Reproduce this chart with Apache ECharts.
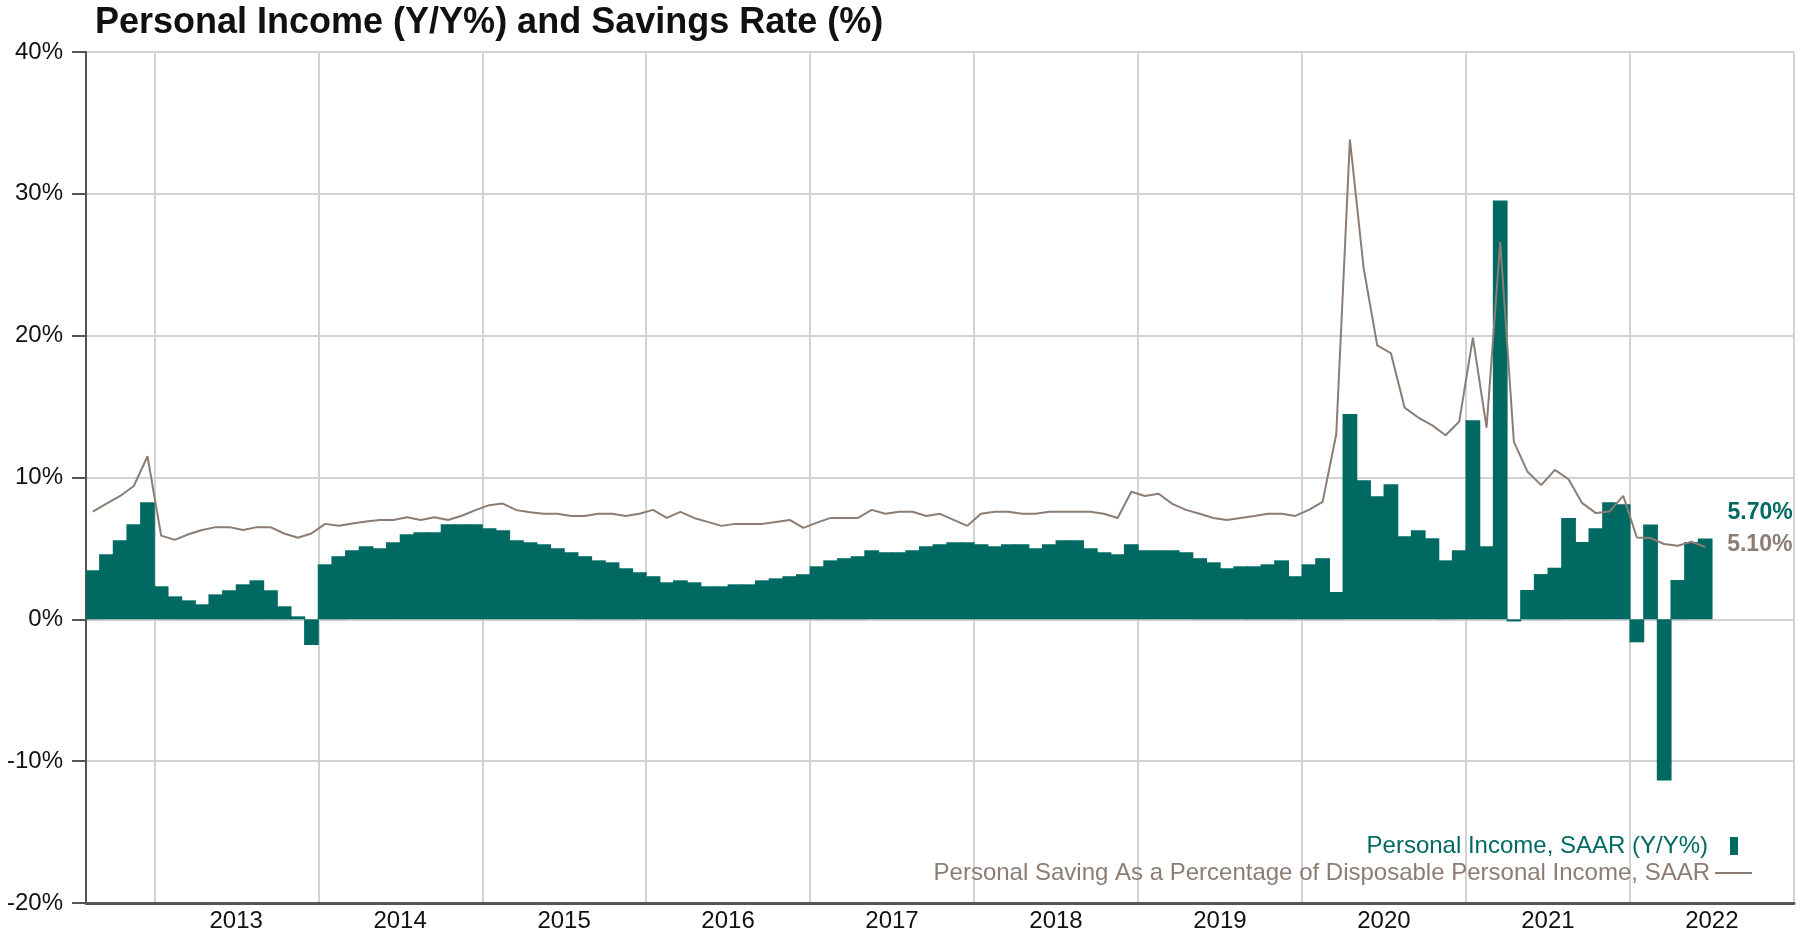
<!DOCTYPE html>
<html>
<head>
<meta charset="utf-8">
<title>Personal Income (Y/Y%) and Savings Rate (%)</title>
<script src="https://cdn.jsdelivr.net/npm/echarts@6/dist/echarts.min.js"></script>
<style>
    html, body { margin: 0; padding: 0; background: #fff; }
    #chart { width: 1810px; height: 933px; }
</style>
</head>
<body>
<div id="chart"></div>
<script>
// monthly values, Aug 2012 .. Jun 2022
var incomeYoY = [
    3.46, 4.59, 5.58, 6.71, 8.26,
    2.33, 1.62, 1.34, 1.06, 1.76, 2.05, 2.47, 2.75, 2.05, 0.92, 0.21, -1.81,
    3.88, 4.45, 4.87, 5.15, 5.01, 5.44, 6.00, 6.14, 6.14, 6.71, 6.71, 6.71,
    6.42, 6.28, 5.58, 5.44, 5.29, 5.01, 4.73, 4.45, 4.16, 4.02, 3.60, 3.32,
    3.04, 2.61, 2.75, 2.61, 2.33, 2.33, 2.47, 2.47, 2.75, 2.89, 3.04, 3.18,
    3.74, 4.16, 4.31, 4.45, 4.87, 4.73, 4.73, 4.87, 5.15, 5.29, 5.44, 5.44,
    5.29, 5.15, 5.29, 5.29, 5.01, 5.29, 5.58, 5.58, 5.01, 4.73, 4.59, 5.29,
    4.87, 4.87, 4.87, 4.73, 4.31, 4.02, 3.60, 3.74, 3.74, 3.88, 4.16, 3.04,
    3.88, 4.31, 1.93, 14.47, 9.81, 8.68, 9.53, 5.86, 6.28, 5.72, 4.16, 4.87,
    14.04, 5.16, 29.53, -0.15, 2.07, 3.19, 3.64, 7.14, 5.45, 6.43, 8.26, 8.12,
    -1.62, 6.69, -11.36, 2.77, 5.45, 5.70
];

var savingRate = [
    7.60, 8.16, 8.70, 9.40, 11.50,
    5.90, 5.60, 6.00, 6.30, 6.50, 6.50, 6.30, 6.50, 6.50, 6.05, 5.75, 6.05,
    6.73, 6.60, 6.75, 6.90, 7.00, 7.00, 7.20, 7.00, 7.20, 7.00, 7.30, 7.70,
    8.05, 8.16, 7.70, 7.55, 7.44, 7.44, 7.29, 7.29, 7.44, 7.44, 7.29, 7.44,
    7.72, 7.15, 7.58, 7.15, 6.87, 6.59, 6.73, 6.73, 6.73, 6.87, 7.01, 6.45,
    6.82, 7.15, 7.15, 7.15, 7.72, 7.44, 7.58, 7.58, 7.29, 7.44, 7.01, 6.59,
    7.44, 7.58, 7.58, 7.44, 7.44, 7.58, 7.58, 7.58, 7.58, 7.44, 7.15, 8.99,
    8.70, 8.85, 8.14, 7.72, 7.44, 7.15, 7.01, 7.15, 7.29, 7.44, 7.44, 7.29,
    7.72, 8.28, 13.05, 33.83, 24.79, 19.32, 18.76, 14.93, 14.23, 13.69, 12.98, 13.94,
    19.86, 13.52, 26.60, 12.51, 10.40, 9.46, 10.54, 9.88, 8.19, 7.49, 7.61, 8.71,
    5.77, 5.73, 5.31, 5.19, 5.47, 5.10
];

var incomeName = 'Personal Income, SAAR (Y/Y%)';
var savingName = 'Personal Saving As a Percentage of Disposable Personal Income, SAAR';
var yTicks = [-20, -10, 0, 10, 20, 30, 40];

// axis runs Aug 2012 .. Dec 2022, one category per month
var months = [];
for (var y = 2012; y <= 2022; y++) {
    for (var m = (y === 2012 ? 8 : 1); m <= 12; m++) {
        months.push(y + '-' + (m < 10 ? '0' + m : m));
    }
}

var teal = '#006a62';
var taupe = '#8b7d74';
var font = "'Liberation Sans', Arial, sans-serif";

var chart = echarts.init(document.getElementById('chart'));

var lastIdx = incomeYoY.length - 1;
var barData = incomeYoY.map(function (v, i) {
    if (i !== lastIdx) return v;
    return {
        value: v,
        label: {
            show: true,
            position: 'right',
            distance: 5,
            offset: [10, -66],
            formatter: function (p) { return p.value.toFixed(2) + '%'; },
            color: teal,
            fontWeight: 'bold',
            fontSize: 23,
            fontFamily: font
        }
    };
});

var option = {
    animation: false,
    backgroundColor: '#fff',
    title: {
        text: 'Personal Income (Y/Y%) and Savings Rate (%)',
        left: 95,
        top: 5,
        padding: 0,
        textStyle: {
            fontSize: 36,
            fontWeight: 'bold',
            color: '#111',
            fontFamily: font
        }
    },
    legend: [
        {
            data: [incomeName],
            right: 72,
            top: 834,
            padding: 0,
            align: 'right',
            selectedMode: false,
            icon: 'rect',
            itemWidth: 8,
            itemHeight: 18,
            textStyle: { color: teal, fontSize: 24, fontFamily: font, padding: [0, 17, 6, 0] }
        },
        {
            data: [savingName],
            right: 58,
            top: 861,
            padding: 0,
            align: 'right',
            selectedMode: false,
            icon: 'path://M0,0h37v2h-37z',
            itemWidth: 37,
            itemHeight: 2,
            textStyle: { color: taupe, fontSize: 24, fontFamily: font, padding: [0, 0, 14, 0] }
        }
    ],
    grid: {
        left: 86,
        right: 16,
        top: 52,
        bottom: 30
    },
    xAxis: {
        type: 'category',
        data: months,
        boundaryGap: true,
        axisLine: { onZero: false, lineStyle: { color: '#555', width: 3 } },
        axisTick: { show: false },
        axisLabel: {
            interval: function (i, v) { return v.slice(5) === '07'; },
            formatter: function (v) { return v.slice(0, 4); },
            padding: [0, 14, 0, 0],
            margin: 6,
            fontSize: 24,
            color: '#111',
            fontFamily: font
        },
        splitLine: {
            show: true,
            interval: function (i, v) { return v.slice(5) === '01'; },
            lineStyle: { color: '#d2d2d2', width: 2 }
        }
    },
    yAxis: {
        type: 'value',
        min: yTicks[0],
        max: yTicks[yTicks.length - 1],
        interval: 10,
        axisLine: { show: true, lineStyle: { color: '#555', width: 2 } },
        axisTick: { show: true, length: 14, lineStyle: { color: '#555', width: 2 } },
        axisLabel: {
            formatter: '{value}%',
            margin: 23,
            fontSize: 24,
            color: '#111',
            fontFamily: font
        },
        splitLine: { lineStyle: { color: '#d2d2d2', width: 2 } }
    },
    series: [
        {
            name: incomeName,
            type: 'bar',
            data: barData,
            barWidth: '108%',
            itemStyle: { color: teal },
            z: 2
        },
        {
            name: savingName,
            type: 'line',
            data: savingRate,
            symbol: 'none',
            lineStyle: { color: taupe, width: 2 },
            itemStyle: { color: taupe },
            z: 3,
            endLabel: {
                show: true,
                distance: 22,
                offset: [0, -2],
                formatter: function (p) { return p.value.toFixed(2) + '%'; },
                color: taupe,
                fontWeight: 'bold',
                fontSize: 23,
                fontFamily: font
            }
        }
    ]
};
chart.setOption(option);
</script>
</body>
</html>
